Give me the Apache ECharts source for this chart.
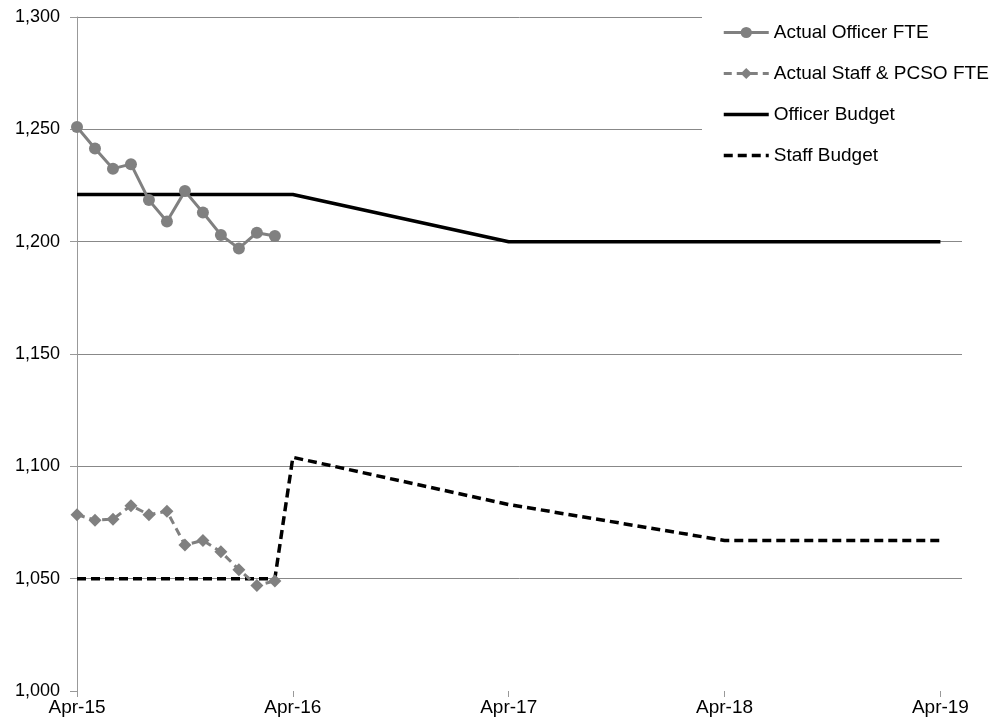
<!DOCTYPE html>
<html>
<head>
<meta charset="utf-8">
<script src="https://cdn.jsdelivr.net/npm/echarts@6/dist/echarts.min.js"></script>
<style>html,body{margin:0;padding:0;background:#fff}#c{width:998px;height:727px}</style>
</head>
<body>
<div id="c"></div>
<script>
// tick labels on x axis (one per April, month index 0,12,24,36,48)
var tickLabels = ['Apr-15', 'Apr-16', 'Apr-17', 'Apr-18', 'Apr-19'];
var tickMonths = [0, 12, 24, 36, 48];

// actual monthly values Apr-15 .. Mar-16 (month index 0..11)
var actualMonths = [0, 1, 2, 3, 4, 5, 6, 7, 8, 9, 10, 11];
var officerActual = [1251, 1241.5, 1232.5, 1234.5, 1218.5, 1209, 1222.5, 1213, 1203, 1197, 1204, 1202.5];
var staffActual = [1078.5, 1076, 1076.5, 1082.5, 1078.5, 1080, 1065, 1067, 1062, 1054, 1047, 1049];

// budgets
var officerBudgetMonths = [0, 12, 24, 36, 48];
var officerBudget = [1221, 1221, 1200, 1200, 1200];
var staffBudgetMonths = [0, 11, 12, 24, 36, 48];
var staffBudget = [1050, 1050, 1104, 1083, 1067, 1067];

function pairs(xs, ys) { return xs.map(function (x, i) { return [x, ys[i]]; }); }

var font = "'Liberation Sans', Arial, sans-serif";
var chart = echarts.init(document.getElementById('c'), null, { renderer: 'canvas' });
chart.setOption({
  animation: false,
  backgroundColor: '#ffffff',
  grid: { left: 77, right: 36, top: 17, bottom: 36, containLabel: false },
  xAxis: {
    type: 'value', min: 0, max: 49.2,
    axisLine: { show: false },
    splitLine: { show: false },
    axisTick: { show: true, length: 6, lineStyle: { color: '#999', width: 1 }, customValues: tickMonths },
    axisLabel: {
      customValues: tickMonths,
      color: '#000', fontSize: 19, fontFamily: font, margin: 7,
      formatter: function (v) { var i = tickMonths.indexOf(Math.round(v)); return i >= 0 ? tickLabels[i] : ''; }
    }
  },
  yAxis: {
    type: 'value', min: 1000, max: 1300, interval: 50,
    axisLine: { show: true, lineStyle: { color: '#999', width: 1 } },
    axisTick: { show: true, length: 7, lineStyle: { color: '#999' } },
    splitLine: { show: true, showMinLine: false, lineStyle: { color: '#888', width: 1 } },
    axisLabel: {
      color: '#000', fontSize: 18, fontFamily: font, margin: 17,
      formatter: function (v) { return v.toLocaleString('en-US'); }
    }
  },
  legend: {
    orient: 'vertical', left: 702, top: 13,
    padding: [10, 40, 12, 20],
    backgroundColor: '#ffffff',
    itemWidth: 45, itemHeight: 14, itemGap: 22,
    textStyle: { color: '#000', fontSize: 19, fontFamily: font },
    data: [
      { name: 'Actual Officer FTE', lineStyle: { width: 3 } },
      { name: 'Actual Staff & PCSO FTE', lineStyle: { width: 3 } },
      { name: 'Officer Budget', itemStyle: { opacity: 0 }, lineStyle: { width: 3.5 } },
      { name: 'Staff Budget', itemStyle: { opacity: 0 }, lineStyle: { width: 3.5 } }
    ]
  },
  series: [
    {
      name: 'Officer Budget', type: 'line', z: 2,
      data: pairs(officerBudgetMonths, officerBudget),
      showSymbol: false, symbol: 'none',
      lineStyle: { color: '#000', width: 3.5 }, itemStyle: { color: '#000' }
    },
    {
      name: 'Staff Budget', type: 'line', z: 2,
      data: pairs(staffBudgetMonths, staffBudget),
      showSymbol: false, symbol: 'none',
      lineStyle: { color: '#000', width: 3.5, type: [9, 5] }, itemStyle: { color: '#000' }
    },
    {
      name: 'Actual Officer FTE', type: 'line', z: 3,
      data: pairs(actualMonths, officerActual),
      symbol: 'circle', symbolSize: 12,
      lineStyle: { color: '#808080', width: 3 }, itemStyle: { color: '#808080' }
    },
    {
      name: 'Actual Staff & PCSO FTE', type: 'line', z: 3,
      data: pairs(actualMonths, staffActual),
      symbol: 'diamond', symbolSize: 13,
      lineStyle: { color: '#808080', width: 3, type: [8, 5] }, itemStyle: { color: '#808080' }
    }
  ]
});
</script>
</body>
</html>
